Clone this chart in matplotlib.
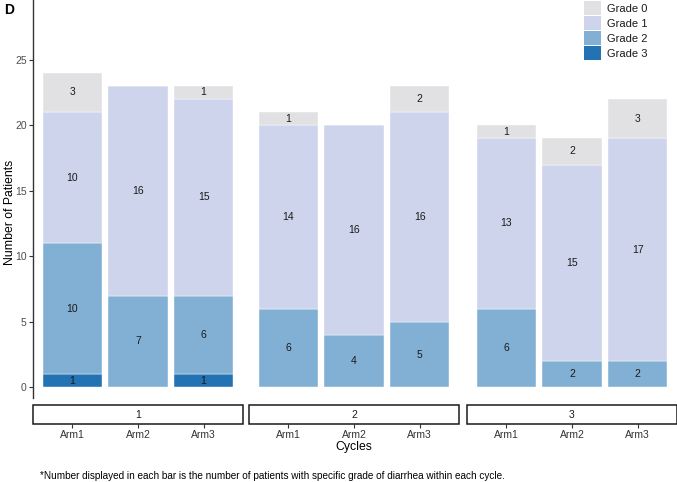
import matplotlib.pyplot as plt
from matplotlib.patches import Rectangle, Patch

# counts per cycle, bars = Arm1, Arm2, Arm3
cycles = ["1", "2", "3"]
arms = ["Arm1", "Arm2", "Arm3"]
grades = ["Grade 0", "Grade 1", "Grade 2", "Grade 3"]
grade3 = [[1, 0, 1], [0, 0, 0], [0, 0, 0]]
grade2 = [[10, 7, 6], [6, 4, 5], [6, 2, 2]]
grade1 = [[10, 16, 15], [14, 16, 16], [13, 15, 17]]
grade0 = [[3, 0, 1], [1, 0, 2], [1, 2, 3]]

colors = {"Grade 0": "#e1e0e2", "Grade 1": "#cdd4ec",
          "Grade 2": "#82b0d4", "Grade 3": "#2272b4"}

W, H = 677, 482
fig = plt.figure(figsize=(W / 100, H / 100), dpi=100)
plt.rcParams['font.family'] = ['Liberation Sans', 'DejaVu Sans']

def fx(px):
    return px / W

def fy(py):
    return 1 - py / H

panel_left = [33, 249, 467]
panel_w = 210
panel_top, panel_bot = 0, 398
axis_col = "#333333"

for i, cyc in enumerate(cycles):
    ax = fig.add_axes([fx(panel_left[i]), fy(panel_bot), panel_w / W, (panel_bot - panel_top) / H])
    bottom = [0, 0, 0]
    # stack from grade 3 up to grade 0
    for name, vals in [("Grade 3", grade3[i]), ("Grade 2", grade2[i]),
                       ("Grade 1", grade1[i]), ("Grade 0", grade0[i])]:
        ax.bar(range(3), vals, bottom=bottom, width=0.9, color=colors[name],
               edgecolor="white", linewidth=0.3)
        for j, v in enumerate(vals):
            if v > 0:
                ax.text(j, bottom[j] + v / 2, str(v), ha="center", va="center",
                        fontsize=7.5, color="#1a1a1a")
        bottom = [b + v for b, v in zip(bottom, vals)]
    ax.set_xlim(-0.6, 2.6)
    ax.set_ylim(-0.82, 29.56)
    ax.spines["top"].set_visible(False)
    ax.spines["right"].set_visible(False)
    ax.spines["bottom"].set_position(("outward", 26 * 0.72))
    ax.spines["bottom"].set_visible(False)
    ax.set_xticks(range(3))
    ax.set_xticklabels(arms)
    ax.tick_params(axis="x", length=3, width=0.8, color=axis_col, pad=1,
                   labelsize=7.5, labelcolor="#333333")
    if i == 0:
        ax.spines["left"].set_color(axis_col)
        ax.spines["left"].set_linewidth(1.0)
        ax.set_yticks([0, 5, 10, 15, 20, 25])
        ax.tick_params(axis="y", length=3, width=0.8, color=axis_col,
                       labelsize=7.5, labelcolor="#4d4d4d", pad=1.5)
    else:
        ax.spines["left"].set_visible(False)
        ax.set_yticks([])
    ax.patch.set_alpha(0)

    # strip below panel
    fig.patches.append(Rectangle((fx(panel_left[i]), fy(424)), panel_w / W, 19 / H,
                                 transform=fig.transFigure, facecolor="white",
                                 edgecolor="#1a1a1a", linewidth=1.1))
    fig.text(fx(panel_left[i] + panel_w / 2), fy(414.5), cyc, ha="center", va="center",
             fontsize=7.5, color="#1a1a1a")

fig.text(fx(354), fy(447), "Cycles", ha="center", va="center", fontsize=8.8)
fig.text(fx(10), fy(212), "Number of Patients", ha="center", va="center",
         rotation=90, fontsize=8.8)
fig.text(fx(4), fy(10), "D", ha="left", va="center", fontsize=10, fontweight="bold")
fig.text(fx(40), fy(476), "*Number displayed in each bar is the number of patients "
         "with specific grade of diarrhea within each cycle.",
         ha="left", va="center", fontsize=7.2)

handles = [Patch(facecolor=colors[g], edgecolor="none") for g in grades]
fig.legend(handles, grades, loc="upper left", bbox_to_anchor=(fx(584), fy(1)),
           frameon=False, fontsize=8, handlelength=1.55, handleheight=1.6,
           labelspacing=0.07, handletextpad=0.5, borderpad=0, borderaxespad=0,
           labelcolor="#1a1a1a")

fig.savefig("out.png", dpi=100)
